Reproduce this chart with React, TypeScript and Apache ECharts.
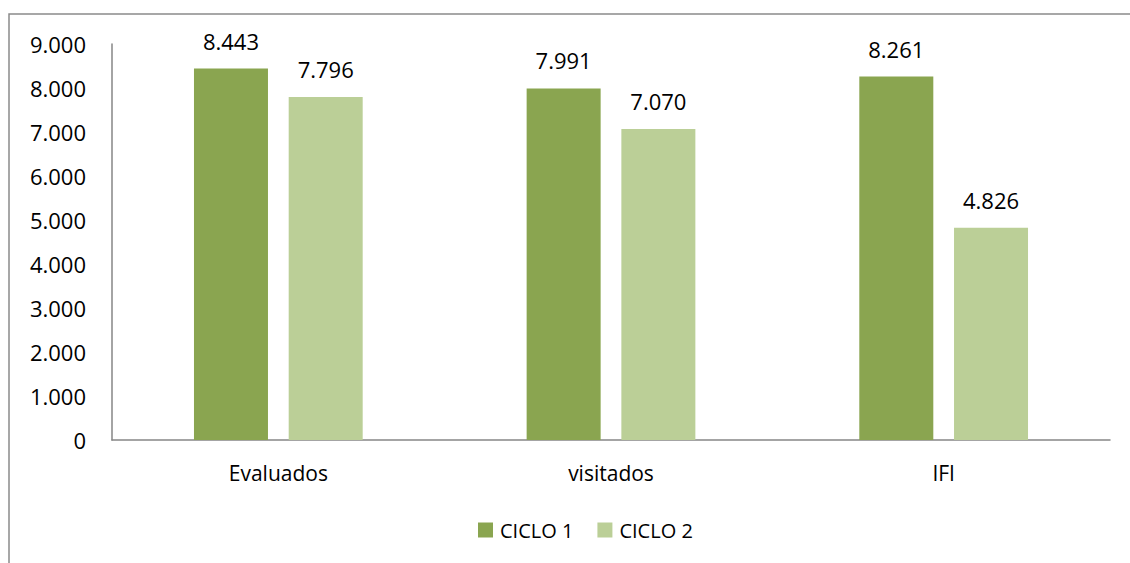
import React, { useEffect, useRef } from "react";
import * as echarts from "echarts";

const categories = ["Evaluados", "visitados", "IFI"];
const ciclo1 = [8443, 7991, 8261];
const ciclo2 = [7796, 7070, 4826];
const seriesNames = ["CICLO 1", "CICLO 2"];

const fmt = (v: number) => {
  const s = String(Math.round(v));
  return s.replace(/\B(?=(\d{3})+(?!\d))/g, ".");
};

const FONT = "'Open Sans', sans-serif";

export default function App() {
  const ref = useRef<HTMLDivElement>(null);
  useEffect(() => {
    if (!ref.current) return;
    const chart = echarts.init(ref.current, undefined, { renderer: "svg" });
    chart.setOption({
      animation: false,
      backgroundColor: "#ffffff",
      textStyle: { fontFamily: FONT },
      graphic: [
        {
          type: "rect",
          shape: { x: 9, y: 14, width: 1140, height: 600 },
          style: { fill: "none", stroke: "#8a8a8a", lineWidth: 1.5 },
          silent: true,
        },
      ],
      grid: { left: 112, right: 20, top: 44, bottom: 123 },
      legend: {
        data: seriesNames,
        left: 473,
        top: 515,
        itemWidth: 15,
        itemHeight: 15,
        itemGap: 24,
        icon: "rect",
        textStyle: { fontFamily: FONT, fontSize: 20, color: "#000", padding: [0, 0, 0, 2] },
      },
      xAxis: {
        type: "category",
        data: categories,
        axisLine: { lineStyle: { color: "#868686", width: 1.5 } },
        axisTick: { show: false },
        axisLabel: { fontFamily: FONT, fontSize: 21, color: "#000", margin: 22 },
      },
      yAxis: {
        type: "value",
        min: 0,
        max: 9000,
        interval: 1000,
        axisLine: { show: true, lineStyle: { color: "#868686", width: 1.5 } },
        axisTick: { show: false },
        splitLine: { show: false },
        axisLabel: {
          fontFamily: FONT,
          fontSize: 22,
          color: "#000",
          margin: 26,
          formatter: (v: number) => fmt(v),
        },
      },
      series: [
        {
          name: seriesNames[0],
          type: "bar",
          data: ciclo1,
          barWidth: 74,
          barGap: "28%",
          itemStyle: { color: "#8AA550" },
          label: {
            show: true,
            position: "top",
            distance: 17,
            fontFamily: FONT,
            fontSize: 22,
            color: "#000",
            formatter: (p: any) => fmt(p.value),
          },
        },
        {
          name: seriesNames[1],
          type: "bar",
          data: ciclo2,
          barWidth: 74,
          barGap: "28%",
          itemStyle: { color: "#BBCF97" },
          label: {
            show: true,
            position: "top",
            distance: 17,
            fontFamily: FONT,
            fontSize: 22,
            color: "#000",
            formatter: (p: any) => fmt(p.value),
          },
        },
      ],
    });
    return () => chart.dispose();
  }, []);
  return (
    <div
      ref={ref}
      style={{ position: "fixed", left: 0, top: 0, width: 1130, height: 563 }}
    />
  );
}
